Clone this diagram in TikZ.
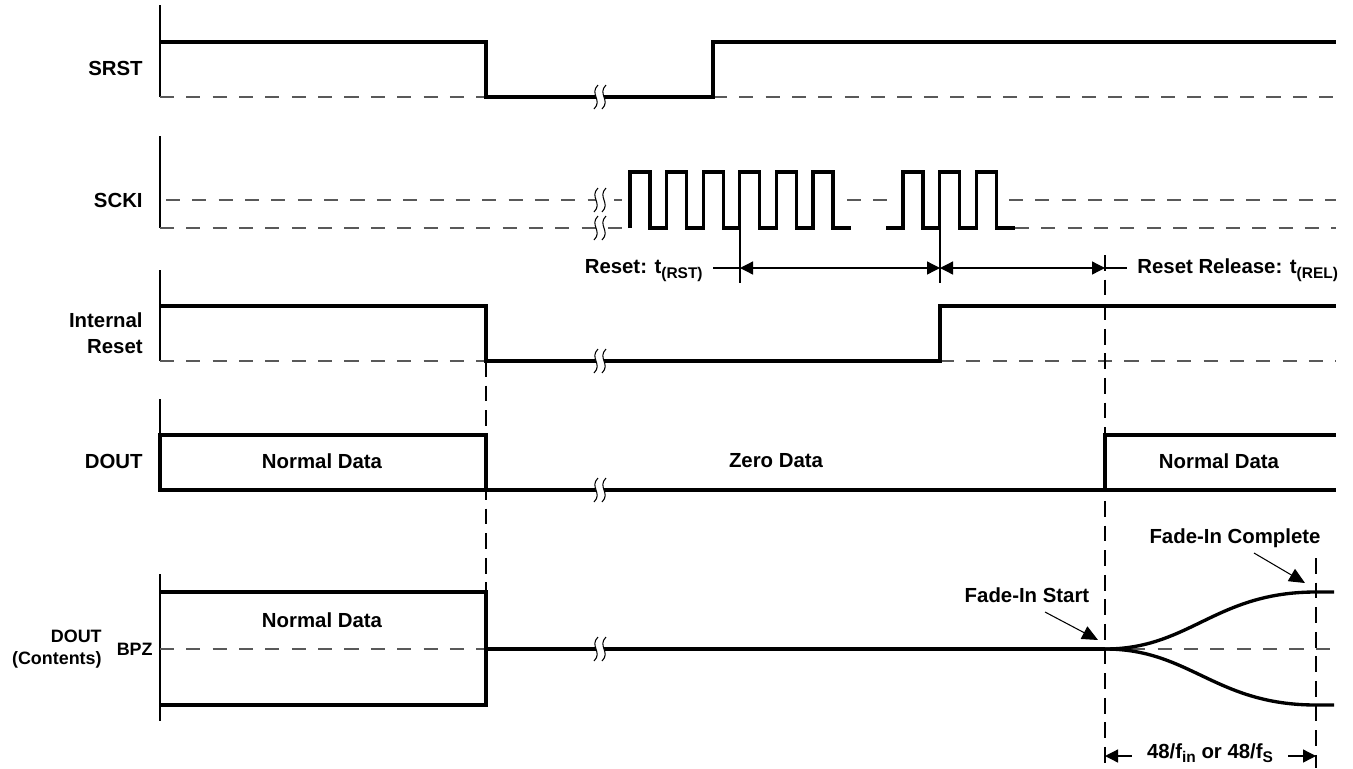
\documentclass[tikz,border=0pt]{standalone}
\usepackage{fontspec}
\setmainfont{Liberation Sans}
\usetikzlibrary{arrows.meta}
\tikzset{>={Triangle[length=7.4pt,width=7.4pt]}}

% break mark on a signal line
\newcommand{\sqbreak}[2]{%
  \begin{scope}[shift={(#1,#2)}]
    \fill[white] (-2,-12) .. controls (-11,-3) and (3,3) .. (-6,12) -- (2,12) .. controls (11,3) and (-3,-3) .. (6,-12) -- cycle;
    \draw[line width=0.6pt] (-2,-12) .. controls (-11,-3) and (3,3) .. (-6,12);
    \draw[line width=0.6pt] (6,-12) .. controls (-3,-3) and (11,3) .. (2,12);
  \end{scope}}
\newcommand{\subtx}[1]{\raisebox{-3.4pt}{\fontsize{8.8}{9}\selectfont #1}}
\newcommand{\subtxb}[1]{\raisebox{-2.6pt}{\fontsize{8.8}{9}\selectfont #1}}

\begin{document}
\begin{tikzpicture}[x=0.02cm,y=-0.02cm]
        \tikzstyle{sig} = [line width=1.9pt, line join=miter]
        \tikzstyle{axis} = [line width=0.75pt]
        \tikzstyle{lvl} = [line width=0.75pt, draw=black!65, dash pattern=on 8pt off 7pt]
        \tikzstyle{vguide} = [line width=0.75pt, dash pattern=on 9pt off 5pt]
        \tikzstyle{lbl} = [font=\bfseries\fontsize{11.6}{14.7}\selectfont, inner sep=0pt, align=right]
        \tikzstyle{slbl} = [font=\bfseries\fontsize{10.2}{12.6}\selectfont, inner sep=0pt, align=right]
        \tikzstyle{lead} = [line width=0.6pt, -{Triangle[length=9pt,width=8pt]}]

        \useasboundingbox (0,0) rectangle (1353,768);

        % signal names
        \node[lbl, anchor=east] (nsrst) at (143,68) {SRST};
        \node[lbl, anchor=east] (nscki) at (143,200) {SCKI};
        \node[lbl, anchor=east] (nirst) at (143,333) {Internal\\Reset};
        \node[lbl, anchor=east] (ndout) at (143,461) {DOUT};
        \node[slbl, anchor=east] (ncont) at (102,649) {DOUT\\(Contents)};
        \node[slbl, anchor=east] (nbpz) at (153,649) {BPZ};

        % axes
        \draw[axis] (160,5) -- (160,97);
        \draw[axis] (160,136) -- (160,228);
        \draw[axis] (160,270) -- (160,361);
        \draw[axis] (160,399) -- (160,490);
        \draw[axis] (160,574) -- (160,721);

        % low / reference levels
        \draw[lvl] (160,97) -- (486,97);
        \draw[lvl] (713,97) -- (1336,97);
        \draw[lvl] (166,200) -- (622,200);
        \draw[lvl] (847,200) -- (893,200);
        \draw[lvl] (1009,200) -- (1336,200);
        \draw[lvl] (160,228) -- (630,228);
        \draw[lvl] (1015,228) -- (1336,228);
        \draw[lvl] (160,361) -- (486,361);
        \draw[lvl] (940,361) -- (1336,361);
        \draw[lvl] (160,649) -- (486,649);
        \draw[lvl] (1105,649) -- (1336,649);

        % guides
        \draw[vguide] (486,361) -- (486,592);
        \draw[vguide] (1105,255) -- (1105,768);
        \draw[vguide] (1316,558) -- (1316,768);
        \draw[axis] (740,228) -- (740,283);
        \draw[axis] (940,228) -- (940,283);

        % SRST
        \draw[sig] (160,42) -- (486,42) -- (486,97) -- (713,97) -- (713,42) -- (1336,42);
        % SCKI
        \draw[sig] (630,228) \foreach \r in {630,666.6,703.2,739.8,776.4,813} {-- (\r,228) -- (\r,172) -- (\r+20,172) -- (\r+20,228)} -- (851,228);
        \draw[sig] (886,228) \foreach \r in {903,939.6,976.2} {-- (\r,228) -- (\r,172) -- (\r+20,172) -- (\r+20,228)} -- (1015,228);
        % Internal Reset
        \draw[sig] (160,306) -- (486,306) -- (486,361) -- (940,361) -- (940,306) -- (1336,306);
        % DOUT
        \draw[sig] (486,490) -- (486,435) -- (160,435) -- (160,490) -- (1336,490);
        \draw[sig] (1105,490) -- (1105,435) -- (1336,435);
        % DOUT contents
        \draw[sig] (160,592) -- (486,592) -- (486,705) -- (160,705);
        \draw[sig] (486,649) -- (1105,649);
        \draw[sig] (1105,649) .. controls (1190,649) and (1215,592) .. (1316,592) -- (1334,592);
        \draw[sig] (1105,649) .. controls (1190,649) and (1215,705) .. (1316,705) -- (1334,705);

        \sqbreak{600}{97}
        \sqbreak{600}{200}
        \sqbreak{600}{228}
        \sqbreak{600}{361}
        \sqbreak{600}{490}
        \sqbreak{600}{649}

        % data labels
        \node[lbl] (nnd1) at (322,461) {Normal Data};
        \node[lbl] (nzero) at (776,461) {Zero Data};
        \node[lbl] (nnd2) at (1219,461) {Normal Data};
        \node[lbl] (nnd3) at (322,620) {Normal Data};

        % reset timing
        \coordinate (tRa) at (740,268);
        \coordinate (tRb) at (940,268);
        \coordinate (tRc) at (1105,268);
        \node[lbl, anchor=base east, inner xsep=5.7pt] (nrst) at (713,273) {Reset: t\subtx{(RST)}};
        \node[lbl, anchor=base west, inner xsep=5.7pt] (nrel) at (1127,273) {Reset Release: t\subtx{(REL)}};
        \draw[axis] (nrst.east |- tRa) -- (tRa);
        \draw[axis, <->] (tRa) -- (tRb);
        \draw[axis, <->] (tRb) -- (tRc);
        \draw[axis] (tRc) -- (nrel.west |- tRc);

        % fade-in
        \node[lbl] (nfs) at (1027,595) {Fade-In Start};
        \node[lbl] (nfc) at (1235,538) {Fade-In Complete};
        \coordinate (fsA) at (1045,612);
        \coordinate (fsB) at (1098,640);
        \coordinate (fcA) at (1254,553);
        \coordinate (fcB) at (1305,583);
        \draw[lead] (fsA) -- (fsB);
        \draw[lead] (fcA) -- (fcB);

        \coordinate (fA) at (1105,756);
        \coordinate (fB) at (1316,756);
        \node[lbl, anchor=base, inner xsep=8.5pt] (nfade) at (1210,758) {48/f\subtxb{in} or 48/f\subtxb{S}};
        \draw[axis, ->] (nfade.west |- fA) -- (fA);
        \draw[axis, ->] (nfade.east |- fB) -- (fB);
\end{tikzpicture}
\end{document}
